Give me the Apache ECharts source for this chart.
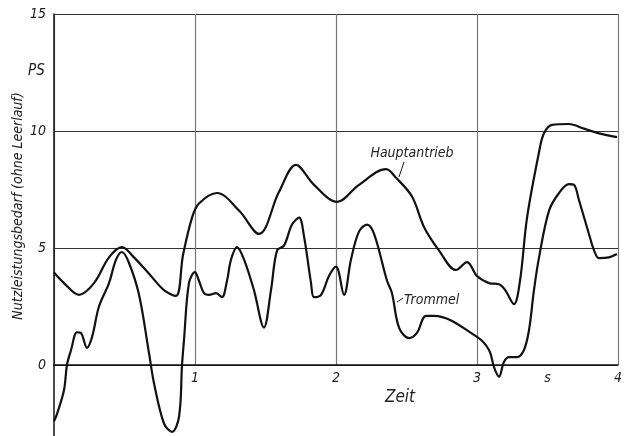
<!DOCTYPE html>
<html><head><meta charset="utf-8">
<script src="https://cdn.jsdelivr.net/npm/echarts@6/dist/echarts.min.js"></script>
<style>html,body{margin:0;padding:0;background:#fff;overflow:hidden}#c{width:632px;height:500px}</style>
</head><body><div id="c"></div>
<script>
// Zeit (s) / Nutzleistung (PS)
const hauptX = [0,0.071,0.177,0.284,0.39,0.482,0.567,0.674,0.78,0.865,0.915,0.979,1.028,1.156,1.312,1.454,1.596,1.716,1.844,2.007,2.163,2.355,2.426,2.539,2.624,2.73,2.851,2.929,3.0,3.085,3.156,3.2,3.262,3.305,3.355,3.44,3.475,3.532,3.652,3.759,3.865,3.993];
const hauptY = [3.95,3.5,3.0,3.5,4.6,5.04,4.6,3.9,3.2,2.95,4.7,6.3,6.9,7.35,6.6,5.6,7.4,8.55,7.7,6.97,7.7,8.37,8.0,7.2,5.9,4.9,4.06,4.4,3.8,3.5,3.45,3.2,2.6,3.6,6.3,9.1,9.9,10.26,10.3,10.1,9.9,9.74];
const trommelX = [0,0.021,0.071,0.092,0.121,0.163,0.191,0.234,0.27,0.319,0.39,0.44,0.482,0.532,0.603,0.674,0.709,0.78,0.837,0.887,0.908,0.922,0.957,1.0,1.028,1.064,1.099,1.149,1.191,1.227,1.255,1.298,1.348,1.418,1.489,1.539,1.582,1.631,1.688,1.738,1.773,1.823,1.844,1.894,1.95,2.0,2.057,2.106,2.163,2.22,2.27,2.362,2.397,2.447,2.518,2.574,2.638,2.695,3.0,3.085,3.121,3.156,3.191,3.227,3.284,3.333,3.369,3.404,3.44,3.511,3.582,3.652,3.688,3.723,3.794,3.83,3.865,3.936,3.993];
const trommelY = [-2.4,-2.1,-1.07,0,0.64,1.4,1.37,0.73,1.2,2.5,3.5,4.5,4.83,4.36,3.0,0.5,-0.77,-2.5,-2.86,-2.2,0,1.07,3.5,3.97,3.6,3.07,3.0,3.07,2.9,3.6,4.5,5.04,4.5,3.2,1.6,3.2,4.9,5.1,6.0,6.3,5.5,3.5,2.9,3.0,3.8,4.2,3.0,4.5,5.7,6.0,5.6,3.6,3.07,1.6,1.15,1.37,2.1,2.1,1.2,0.64,-0.1,-0.5,0.13,0.34,0.34,0.64,1.5,3.2,4.6,6.6,7.35,7.73,7.7,7.05,5.6,4.9,4.57,4.6,4.74];
const yTicks = ['0','5','10','15'];
const xTickLabels = {1:'1',2:'2',3:'3',3.5:'s',4:'4'};

const FONT = "'Liberation Sans Narrow','DejaVu Sans Condensed','Liberation Sans',sans-serif";
const chart = echarts.init(document.getElementById('c'), null, {renderer:'canvas'});
const zip = (xs, ys) => xs.map((x,i)=>[x, ys[i]]);
const lineStyle = {color:'#111', width:2.2};
chart.setOption({
  animation:false,
  backgroundColor:'#fff',
  grid:[
    {left:54, top:14, width:564, height:468, containLabel:false},
    {left:54, top:14, width:564, height:351, containLabel:false}
  ],
  xAxis:[{
    gridIndex:0, type:'value', min:0, max:4, show:false
  },{
    gridIndex:1, type:'value', min:0, max:4, interval:0.5,
    axisLine:{onZero:false, lineStyle:{color:'#111', width:1.5}},
    axisTick:{show:false},
    axisLabel:{margin:6, fontFamily:FONT, fontStyle:'italic', fontSize:14, color:'#222',
      formatter:v=>xTickLabels[v]||''},
    splitLine:{show:true, lineStyle:{color:['#777','rgba(0,0,0,0)'], width:1.2}}
  }],
  yAxis:[{
    gridIndex:0, type:'value', min:-5, max:15, interval:5,
    axisLine:{show:true, lineStyle:{color:'#111', width:1.5}},
    axisTick:{show:false}, axisLabel:{show:false}, splitLine:{show:false}
  },{
    gridIndex:1, type:'value', min:0, max:15, interval:5,
    axisLine:{show:false}, axisTick:{show:false},
    axisLabel:{margin:8, fontFamily:FONT, fontStyle:'italic', fontSize:14, color:'#222',
      formatter:v=>yTicks.includes(String(v))?String(v):''},
    splitLine:{show:true, lineStyle:{color:'#333', width:1}}
  }],
  series:[
    {type:'line', name:'Hauptantrieb', xAxisIndex:0, yAxisIndex:0, data:zip(hauptX,hauptY), smooth:0.35, symbol:'none', lineStyle:lineStyle, z:5},
    {type:'line', name:'Trommel', xAxisIndex:0, yAxisIndex:0, data:zip(trommelX,trommelY), smooth:0.35, symbol:'none', lineStyle:lineStyle, z:5}
  ],
  graphic:[
    {type:'text', left:28, top:64, style:{text:'PS', font:"italic 15px "+FONT, fill:'#222'}},
    {type:'text', x:18, y:206, rotation:Math.PI/2, style:{text:'Nutzleistungsbedarf (ohne Leerlauf)', font:"italic 14px "+FONT, fill:'#222', align:'center', verticalAlign:'middle'}},
    {type:'text', x:400, y:398, style:{text:'Zeit', font:"italic 17px "+FONT, fill:'#222', align:'center', verticalAlign:'middle'}},
    {type:'text', x:412, y:153, style:{text:'Hauptantrieb', font:"italic 14px "+FONT, fill:'#222', align:'center', verticalAlign:'middle'}},
    {type:'line', shape:{x1:404, y1:162, x2:399, y2:177}, style:{stroke:'#222', lineWidth:1}},
    {type:'text', x:404, y:300, style:{text:'Trommel', font:"italic 14px "+FONT, fill:'#222', align:'left', verticalAlign:'middle'}},
    {type:'line', shape:{x1:403, y1:298, x2:397, y2:302}, style:{stroke:'#222', lineWidth:1}}
  ]
});
</script></body></html>
